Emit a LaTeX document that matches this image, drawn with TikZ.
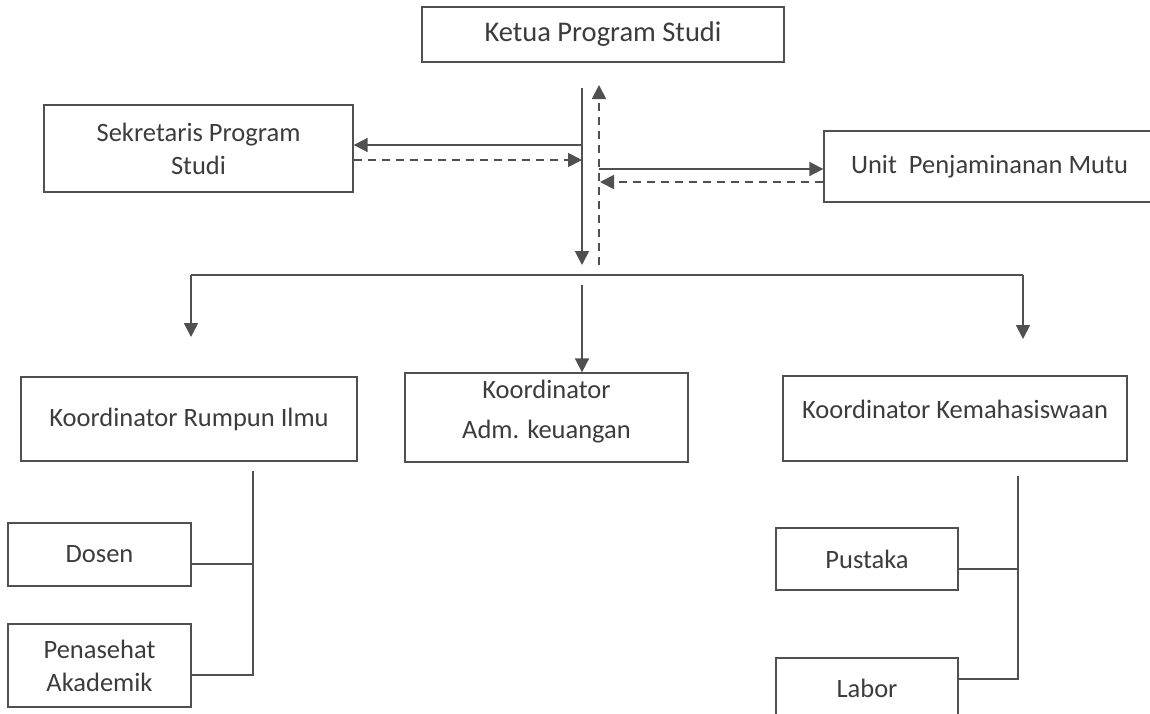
\documentclass[tikz,border=0pt]{standalone}
\usepackage{fontspec}
\setmainfont{Carlito}
\usetikzlibrary{arrows.meta}
\definecolor{ln}{HTML}{505050}
\definecolor{tx}{HTML}{3C3C3C}
\begin{document}
\begin{tikzpicture}[x=1pt,y=-1pt,
 box/.style={draw=ln,line width=1.3pt,rectangle,inner sep=0pt,align=center,text=tx,font=\fontsize{26.5}{33}\selectfont},
 conn/.style={draw=ln,line width=1.8pt},
 arr/.style={conn,-{Triangle[width=14pt,length=14pt]}},
 dsh/.style={arr,dash pattern=on 8pt off 6pt},
]
\useasboundingbox (0,0) rectangle (1150,713);
\fill[white] (0,0) rectangle (1150,713);
\clip (0,0) rectangle (1150,713);

% boxes
\node[box,minimum width=362pt,minimum height=55pt,font=\fontsize{28.5}{33}\selectfont] (ketua) at (603,34.5) {Ketua Program Studi};
\node[box,minimum width=309pt,minimum height=87pt] (sekr) at (198.5,148.5) {Sekretaris Program\\Studi};
\node[box,minimum width=331pt,minimum height=71pt] (unit) at (989.5,166.5) {Unit\ \ Penjaminanan Mutu};
\node[box,minimum width=336pt,minimum height=84pt] (rumpun) at (189,419) {Koordinator Rumpun Ilmu};
\node[box,minimum width=283pt,minimum height=89pt,text depth=16pt] (adm) at (546.5,417.5) {Koordinator\\[7pt]Adm. keuangan};
\node[box,minimum width=344pt,minimum height=85pt,text depth=19pt] (kemah) at (955,418.5) {Koordinator Kemahasiswaan};
\node[box,minimum width=183pt,minimum height=63pt] (dosen) at (99.5,554.5) {Dosen};
\node[box,minimum width=183pt,minimum height=83pt] (pa) at (99.5,665.5) {Penasehat\\Akademik};
\node[box,minimum width=182pt,minimum height=62pt] (pustaka) at (867,559) {Pustaka};
\node[box,minimum width=182pt,minimum height=60pt] (labor) at (867,688) {Labor};

% central vertical arrows
\coordinate (kd1) at (582,88); \coordinate (kd2) at (582,265);
\coordinate (ku1) at (599,265); \coordinate (ku2) at (599,85);
\draw[arr] (kd1) -- (kd2);
\draw[dsh] (ku1) -- (ku2);

% sekretaris
\coordinate (s1) at (582,145);
\draw[arr] (s1) -- (s1 -| sekr.east);
\coordinate (s2) at (582,160);
\draw[dsh] (s2 -| sekr.east) -- (s2);

% unit penjaminan mutu
\coordinate (u1) at (599,169);
\draw[arr] (u1) -- (u1 -| unit.west);
\coordinate (u2) at (600,182);
\draw[dsh] (u2 -| unit.west) -- (u2);

% bus
\coordinate (bl) at (191,275); \coordinate (br) at (1023,275);
\coordinate (blt) at (191,337); \coordinate (brt) at (1023,339);
\coordinate (bm) at (582,285);
\draw[conn] (bl) -- (br);
\draw[arr] (bl) -- (blt);
\draw[arr] (br) -- (brt);
\draw[arr] (bm) -- (bm |- adm.north);

% rumpun ilmu tree
\coordinate (rt) at (253,471); \coordinate (rb) at (253,676);
\coordinate (rd) at (253,564); \coordinate (rp) at (253,675);
\draw[conn] (rt) -- (rb);
\draw[conn] (rd -| dosen.east) -- (rd);
\draw[conn] (rp -| pa.east) -- (rp);

% kemahasiswaan tree
\coordinate (kt) at (1018,476); \coordinate (kb) at (1018,680);
\coordinate (kp) at (1018,569); \coordinate (kl) at (1018,679);
\draw[conn] (kt) -- (kb);
\draw[conn] (kp -| pustaka.east) -- (kp);
\draw[conn] (kl -| labor.east) -- (kl);
\end{tikzpicture}
\end{document}
